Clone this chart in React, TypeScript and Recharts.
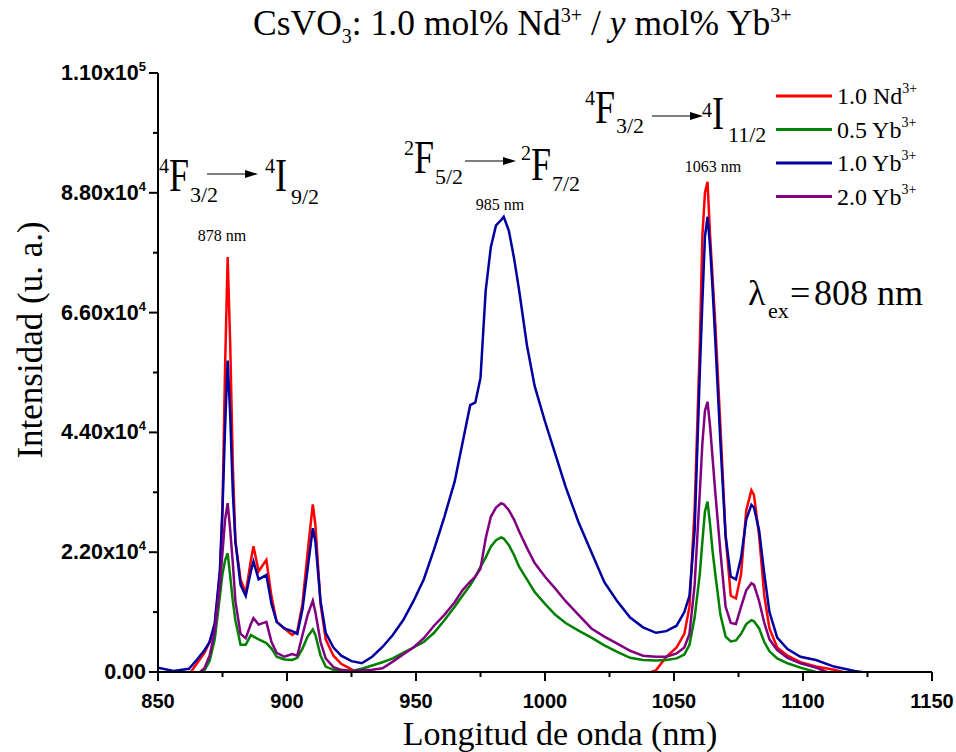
import React from 'react';
import { LineChart, Line, XAxis, YAxis, Legend } from 'recharts';

// wavelength grid (nm) shared by all spectra
const wavelength = [
  850, 856, 862, 865, 868, 870, 872, 874, 875, 876, 877, 878, 879, 880, 882, 884, 886, 887, 889, 892,
  894, 896, 899, 902, 904, 906, 908, 910, 911, 913, 915, 918, 921, 925, 929, 933, 937, 941, 945, 949,
  953, 957, 961, 965, 968, 971, 973, 975, 977, 979, 981, 983, 984, 986, 988, 990, 993, 996, 1000, 1004,
  1008, 1013, 1018, 1023, 1028, 1033, 1038, 1043, 1047, 1051, 1054, 1056, 1058, 1060, 1061, 1062, 1063, 1064, 1065, 1066,
  1068, 1070, 1072, 1074, 1076, 1078, 1080, 1081, 1083, 1085, 1087, 1090, 1094, 1099, 1105, 1112, 1120, 1130,
];

// baseline-subtracted spectra: slightly negative where the signal is gone (hidden under the axis)
const nd10 = [
  -500, -500, -500, 1500, 3500, 5500, 8500, 18000, 30000, 56000, 76200, 60000, 38000, 24000, 17000, 14500, 20500, 23100, 18500, 20600,
  13800, 9200, 8000, 6800, 7500, 12500, 22000, 30800, 27000, 12500, 6000, 3000, 1500, 500, -500, -500, -500, -500, -500, -500,
  -500, -500, -500, -500, -500, -500, -500, -500, -500, -500, -500, -500, -500, -500, -500, -500, -500, -500, -500, -500,
  -500, -500, -500, -500, -500, -500, -500, 300, 2800, 4500, 7000, 12000, 30000, 60000, 80000, 88000, 90000, 80000, 72000, 64000,
  45000, 25000, 14000, 13500, 18000, 29700, 33400, 32500, 25000, 14000, 8000, 4500, 3000, 1800, 1000, 400, -500, -500,
];

const yb05 = [
  -500, -500, -500, -500, 300, 2000, 6000, 14000, 18000, 20500, 21800, 17500, 13000, 9500, 5000, 5000, 6800, 6500, 6000, 5300,
  4300, 2800, 2300, 2200, 2600, 4300, 6500, 7800, 6800, 3000, 1000, 400, 300, 200, 600, 1200, 1800, 2500, 3500, 4500,
  5500, 7200, 9500, 12000, 14000, 15900, 17500, 19300, 21000, 23000, 24200, 24700, 24500, 23300, 21500, 19300, 17000, 14700, 12500, 10500,
  9000, 7600, 6300, 4900, 3700, 2600, 2200, 2100, 2200, 2500, 3200, 5000, 10000, 18000, 24000, 29500, 31300, 27000, 22000, 18000,
  10500, 6500, 5600, 5800, 7000, 8800, 9500, 9300, 8000, 5500, 3800, 2500, 1600, 800, 0, -500, -500, -500,
];

const yb10 = [
  800, 200, 600, 2200, 4000, 5500, 9000, 18700, 30000, 45000, 57200, 47000, 33000, 24000, 16000, 14000, 18500, 20300, 17000, 17800,
  12500, 9200, 8000, 7500, 7000, 11500, 19000, 26400, 24000, 13000, 7200, 4500, 3000, 2000, 1600, 2800, 4600, 6800, 9500, 13000,
  17000, 22500, 28500, 35000, 42000, 49000, 49500, 54000, 70000, 78000, 82000, 83000, 83600, 81000, 76000, 70000, 60000, 52500, 46000, 40000,
  34000, 27500, 22000, 16500, 13000, 10000, 8200, 7200, 7500, 8500, 11000, 14000, 26000, 55000, 68000, 80000, 83600, 78000, 70000, 61000,
  42000, 25000, 17500, 17000, 21000, 28000, 30700, 30200, 26000, 18000, 11000, 6300, 4200, 2800, 2200, 1000, 200, -500,
];

const yb20 = [
  -500, -500, -500, -500, 700, 3000, 7500, 16000, 22000, 28000, 31000, 26000, 20000, 13000, 7000, 6200, 8800, 9900, 8700, 9200,
  5500, 3500, 2800, 3300, 3000, 6800, 10500, 13100, 11000, 5500, 2500, 900, 400, 200, 300, 400, 700, 1900, 3200, 4500,
  6200, 8500, 10500, 12800, 15000, 16600, 17500, 19000, 24500, 28500, 30200, 31000, 30800, 29700, 28000, 25800, 22800, 20000, 17500, 15300,
  13000, 10500, 8000, 6500, 5200, 3900, 3000, 2800, 2800, 3400, 4500, 7000, 16000, 33000, 42000, 48000, 49600, 45000, 39000, 33000,
  22000, 12000, 9000, 8800, 12000, 15000, 16300, 16000, 13000, 9000, 6000, 4000, 2600, 1600, 800, -500, -500, -500,
];

const xTicks = [850, 875, 900, 925, 950, 975, 1000, 1025, 1050, 1075, 1100, 1125, 1150];
const yTicks = [0, 11000, 22000, 33000, 44000, 55000, 66000, 77000, 88000, 99000, 110000];

const series = [
  { key: 'nd10', label: '1.0 Nd', values: nd10, color: '#ff0000' },
  { key: 'yb05', label: '0.5 Yb', values: yb05, color: '#008000' },
  { key: 'yb10', label: '1.0 Yb', values: yb10, color: '#0000a0' },
  { key: 'yb20', label: '2.0 Yb', values: yb20, color: '#800080' },
];

const data = wavelength.map((nm, i) => {
  const row: Record<string, number> = { nm };
  series.forEach((s) => (row[s.key] = s.values[i]));
  return row;
});

const serif = '"Liberation Serif", "Times New Roman", serif';
const sans = '"Liberation Sans", Arial, sans-serif';

function sciParts(v: number): [string, string] {
  if (v === 0) return ['0.00', ''];
  const e = Math.floor(Math.log10(v));
  return [`${(v / 10 ** e).toFixed(2)}x10`, String(e)];
}

function YTick({ x, y, payload }: any) {
  const v = payload.value as number;
  const major = v % 22000 === 0;
  const [base, exp] = sciParts(v);
  return (
    <g>
      <line x1={x - (major ? 9 : 5)} x2={x} y1={y} y2={y} stroke="#000" strokeWidth={2} />
      {major && (
        <text x={x - 12} y={y + 7} textAnchor="end" fontFamily={sans} fontWeight="bold" fontSize={21.5} fill="#000">
          {base}
          {exp && (
            <tspan dy={-9} fontSize={13}>
              {exp}
            </tspan>
          )}
        </text>
      )}
    </g>
  );
}

function XTick({ x, y, payload }: any) {
  const v = payload.value as number;
  const major = v % 50 === 0;
  return (
    <g>
      <line x1={x} x2={x} y1={y} y2={y + (major ? 9 : 5)} stroke="#000" strokeWidth={2} />
      {major && (
        <text x={x} y={y + 36} textAnchor="middle" fontFamily={sans} fontWeight="bold" fontSize={20} fill="#000">
          {v}
        </text>
      )}
    </g>
  );
}

function LegendBox() {
  return (
    <svg width={180} height={130} style={{ display: 'block' }}>
      {series.map((s, i) => {
        const y = 14 + i * 33.5;
        return (
          <g key={s.key}>
            <line x1={6} x2={62} y1={y} y2={y} stroke={s.color} strokeWidth={3} />
            <text x={67} y={y + 8} fontFamily={serif} fontSize={24} fill="#000">
              {s.label}
              <tspan dy={-11} fontSize={14}>
                3+
              </tspan>
            </text>
          </g>
        );
      })}
    </svg>
  );
}

// tall narrow term symbol, e.g. 4F3/2
function Term({ x, y, sup, main, sub, supDy = -18, subDy = 11 }: any) {
  return (
    <g>
      <text x={x} y={y + supDy} fontFamily={serif} fontSize={20} fill="#000">
        {sup}
      </text>
      <text
        transform={`translate(${x + 10}, ${y}) scale(1, 1.3)`}
        fontFamily={serif}
        fontSize={36}
        fill="#000"
      >
        {main}
      </text>
      <text x={x + (main === 'I' ? 26 : 31)} y={y + subDy} fontFamily={serif} fontSize={22} fill="#000">
        {sub}
      </text>
    </g>
  );
}

function Arrow({ x1, x2, y }: { x1: number; x2: number; y: number }) {
  return (
    <g>
      <line x1={x1} x2={x2 - 10} y1={y} y2={y} stroke="#000" strokeWidth={1.2} />
      <polygon points={`${x2},${y} ${x2 - 13},${y - 4} ${x2 - 13},${y + 4}`} fill="#000" />
    </g>
  );
}

function Annotations() {
  return (
    <svg
      width={956}
      height={752}
      style={{ position: 'absolute', left: 0, top: 0, pointerEvents: 'none' }}
    >
      <text x={253} y={35} fontFamily={serif} fontSize={35.5} fill="#000">
        CsVO
        <tspan dy={8} fontSize={20}>3</tspan>
        <tspan dy={-8}>: 1.0 mol% Nd</tspan>
        <tspan dy={-13} fontSize={20}>3+</tspan>
        <tspan dy={13}> / </tspan>
        <tspan fontStyle="italic">y</tspan>
        <tspan> mol% Yb</tspan>
        <tspan dy={-13} fontSize={20}>3+</tspan>
      </text>

      <Term x={159} y={191} sup="4" main="F" sub="3/2" />
      <Arrow x1={207} x2={258} y={174} />
      <Term x={265} y={191} sup="4" main="I" sub="9/2" subDy={13} />
      <text x={222} y={241} textAnchor="middle" fontFamily={serif} fontSize={16} fill="#000">
        878 nm
      </text>

      <Term x={404} y={173} sup="2" main="F" sub="5/2" />
      <Arrow x1={465} x2={516} y={161} />
      <Term x={521} y={180} sup="2" main="F" sub="7/2" supDy={-20} />
      <text x={500} y={210} textAnchor="middle" fontFamily={serif} fontSize={16} fill="#000">
        985 nm
      </text>

      <Term x={585} y={123} sup="4" main="F" sub="3/2" subDy={10} />
      <Arrow x1={652} x2={703} y={116} />
      <Term x={702} y={129} sup="4" main="I" sub="11/2" supDy={-12} subDy={13} />
      <text x={713} y={172} textAnchor="middle" fontFamily={serif} fontSize={16} fill="#000">
        1063 nm
      </text>

      <text x={748} y={305} fontFamily={serif} fontSize={36} fill="#000">
        λ
      </text>
      <text x={768} y={318} fontFamily={serif} fontSize={22} fill="#000">
        ex
      </text>
      <text x={790} y={305} fontFamily={serif} fontSize={36} fill="#000">
        =
      </text>
      <text x={814} y={305} fontFamily={serif} fontSize={36} fill="#000">
        808 nm
      </text>

      <text x={560} y={745} textAnchor="middle" fontFamily={serif} fontSize={34} fill="#000">
        Longitud de onda (nm)
      </text>
      <text
        x={42}
        y={340}
        transform="rotate(-90, 42, 340)"
        textAnchor="middle"
        fontFamily={serif}
        fontSize={35}
        fill="#000"
      >
        Intensidad (u. a.)
      </text>
    </svg>
  );
}

export default function App() {
  return (
    <div style={{ position: 'absolute', left: 0, top: 0, width: 956, height: 752, background: '#fff' }}>
      <LineChart width={956} height={752} data={data} margin={{ top: 73, right: 24, bottom: 0, left: 0 }}>
        <XAxis
          xAxisId="x"
          dataKey="nm"
          type="number"
          domain={[850, 1150]}
          ticks={xTicks}
          interval={0}
          allowDataOverflow
          height={80}
          tickSize={0}
          tickMargin={0}
          tickLine={false}
          tick={<XTick />}
          axisLine={{ stroke: '#000', strokeWidth: 2 }}
        />
        <XAxis
          xAxisId="top"
          orientation="top"
          dataKey="nm"
          type="number"
          domain={[850, 1150]}
          height={0}
          tick={false}
          tickLine={false}
          axisLine={{ stroke: '#000', strokeWidth: 2 }}
        />
        <YAxis
          yAxisId="y"
          type="number"
          domain={[0, 110000]}
          ticks={yTicks}
          interval={0}
          allowDataOverflow
          width={158}
          tickSize={0}
          tickMargin={0}
          tickLine={false}
          tick={<YTick />}
          axisLine={{ stroke: '#000', strokeWidth: 2 }}
        />
        <YAxis
          yAxisId="right"
          orientation="right"
          type="number"
          domain={[0, 110000]}
          width={0}
          tick={false}
          tickLine={false}
          axisLine={{ stroke: '#000', strokeWidth: 2 }}
        />
        {series.map((s) => (
          <Line
            key={s.key}
            xAxisId="x"
            yAxisId="y"
            type="linear"
            dataKey={s.key}
            name={s.label}
            stroke={s.color}
            strokeWidth={2.5}
            dot={false}
            activeDot={false}
            isAnimationActive={false}
          />
        ))}
        <Legend
          layout="vertical"
          align="center"
          verticalAlign="middle"
          content={() => <LegendBox />}
          wrapperStyle={{ left: 770, top: 82, width: 180, height: 130 }}
        />
      </LineChart>
      <Annotations />
    </div>
  );
}
